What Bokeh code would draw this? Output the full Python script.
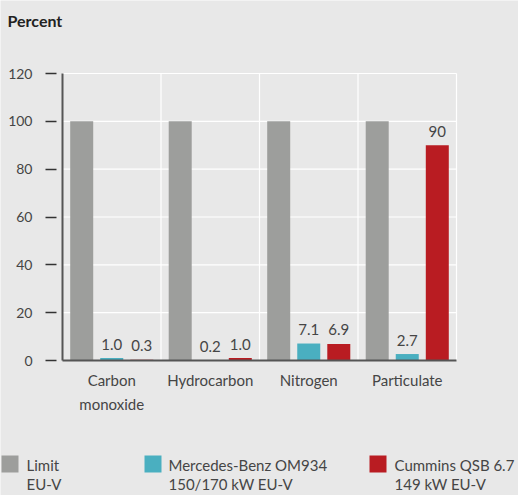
from bokeh.plotting import figure
from bokeh.models import Range1d, FixedTicker, ColumnDataSource
from bokeh.embed import file_html
from bokeh.resources import INLINE
from bokeh.core.properties import value

# ---- data ----
categories = ["Carbon\nmonoxide", "Hydrocarbon", "Nitrogen", "Particulate"]
limit_eu5 = [100, 100, 100, 100]
mercedes = [1.0, 0.2, 7.1, 2.7]
cummins = [0.3, 1.0, 6.9, 90]
series_names = ["Limit\nEU-V", "Mercedes-Benz OM934\n150/170 kW EU-V", "Cummins QSB 6.7\n149 kW EU-V"]
series_colors = ["#9d9e9c", "#4aafc0", "#b91c22"]
y_ticks = [0, 20, 40, 60, 80, 100, 120]
y_title = "Percent"

FONT = "Lato"
BG = "#e8e8e8"
TXT = "#454545"
W, H = 518, 495
FL, FR, FT, FB = 62, 456, 73, 360   # plot-area edges in figure pixels
YMAX = 120
NCAT = len(categories)
TXT_SHIFT = 6   # compensation for text glyph baseline rendering

def fmt(v):
    return f"{v:.0f}" if v >= 10 else f"{v:.1f}"

# figure pixel -> data coordinate (for layout of title and legend)
def px2x(fx):
    return (fx - FL) / (FR - FL) * NCAT

def px2y(fy):
    return (FB - fy) / (FB - FT) * YMAX

p = figure(width=W, height=H, x_range=Range1d(px2x(0), px2x(W)), y_range=Range1d(px2y(H), px2y(0)),
           output_backend="svg", toolbar_location=None, min_border=0)
p.outline_line_color = None
p.background_fill_color = BG
p.border_fill_color = BG
p.grid.visible = False

# grid lines (white) inside the plot area
gy = [t for t in y_ticks if t > 0]
p.segment(x0=[0] * len(gy), x1=[NCAT] * len(gy), y0=gy, y1=gy, line_color="white", line_width=1.2)
gx = list(range(1, NCAT + 1))
p.segment(x0=gx, x1=gx, y0=[0] * len(gx), y1=[YMAX] * len(gx), line_color="white", line_width=1.2)

offsets = [-0.305, 0.0, 0.305]
bar_w = 0.2335
all_series = [limit_eu5, mercedes, cummins]
for i, vals in enumerate(all_series):
    xs = [k + 0.5 + offsets[i] for k in range(NCAT)]
    src = ColumnDataSource(dict(x=xs, top=vals, lab=[fmt(v) for v in vals]))
    p.vbar(x="x", top="top", bottom=0, width=bar_w, source=src,
           fill_color=series_colors[i], line_color=None)
    if i > 0:
        p.text(x="x", y="top", text="lab", source=src, text_font=value(FONT),
               text_font_size="15px", text_color=TXT, text_align="center",
               text_baseline="alphabetic", y_offset=-8 - TXT_SHIFT)

ya = p.yaxis[0]
ya.fixed_location = 0
ya.bounds = (0, YMAX)
ya.ticker = FixedTicker(ticks=y_ticks)
ya.axis_line_color = "#555555"
ya.axis_line_width = 2
ya.major_tick_line_color = "#333333"
ya.major_tick_line_width = 1.5
ya.major_tick_in = -6
ya.major_tick_out = 17
ya.minor_tick_line_color = None
ya.major_label_standoff = 13
ya.major_label_text_font = FONT
ya.major_label_text_font_size = "14px"
ya.major_label_text_color = TXT

xa = p.xaxis[0]
xa.fixed_location = 0
xa.bounds = (0, NCAT)
xa.ticker = FixedTicker(ticks=[k + 0.5 for k in range(NCAT)])
xa.major_label_overrides = {k + 0.5: c for k, c in enumerate(categories)}
xa.axis_line_color = "#555555"
xa.axis_line_width = 2
xa.major_tick_line_color = None
xa.minor_tick_line_color = None
xa.major_tick_in = 0
xa.major_tick_out = 0
xa.major_label_standoff = 10
xa.major_label_text_font = FONT
xa.major_label_text_font_size = "15px"
xa.major_label_text_color = TXT
xa.major_label_text_line_height = 1.35

# ---- title ----
p.text(x=[px2x(7)], y=[px2y(26 - TXT_SHIFT)], text=[y_title], text_font=value(FONT),
       text_font_style="bold", text_font_size="16px", text_color="#222222",
       text_baseline="alphabetic")

# ---- legend ----
leg_sq = [1, 144, 369]
leg_tx = [26, 168, 394]
sq_top, sq = 455, 17
line1, line2 = 470, 489
first = [n.split("\n")[0] for n in series_names]
second = [n.split("\n")[1] for n in series_names]
p.quad(left=[px2x(x) for x in leg_sq], right=[px2x(x + sq) for x in leg_sq],
       top=[px2y(sq_top)] * 3, bottom=[px2y(sq_top + sq)] * 3,
       fill_color=series_colors, line_color=None)
p.text(x=[px2x(x) for x in leg_tx], y=[px2y(line1 - TXT_SHIFT)] * 3, text=first,
       text_font=value(FONT), text_font_size="15px", text_color=TXT, text_baseline="alphabetic")
p.text(x=[px2x(x) for x in leg_tx], y=[px2y(line2 - TXT_SHIFT)] * 3, text=second,
       text_font=value(FONT), text_font_size="15px", text_color=TXT, text_baseline="alphabetic")

open("out.html", "w").write(file_html(p, INLINE))
